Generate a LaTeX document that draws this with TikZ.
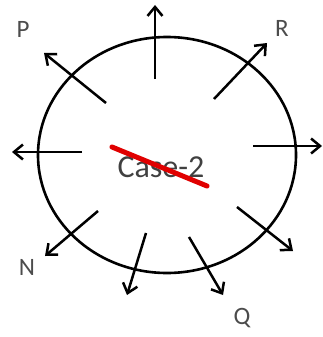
\documentclass[tikz,border=0pt]{standalone}
\usepackage{fontspec}
\setmainfont{Carlito}
\usetikzlibrary{arrows.meta,shapes.geometric}
\begin{document}
\begin{tikzpicture}[x=1pt,y=-1pt,>={Straight Barb[length=9pt,width=15pt]},
  every node/.style={font=\fontsize{25}{25}\selectfont,text=black!70,inner sep=0pt},
  ring/.style={draw,ellipse,line width=2.6pt,minimum width=258pt,minimum height=236pt},
  ray/.style={->,line width=2.5pt},
  strike/.style={line width=5pt,draw=red!88!black,line cap=round}]
  \useasboundingbox (0,0) rectangle (323,337);
  \node[ring] (ring) at (167,155) {};
  \node[font=\fontsize{32}{32}\selectfont,text=black!75] (case) at (161,167) {Case-2};
  \coordinate (s1) at (112,147); \coordinate (s2) at (207,186);
  \draw[strike] (s1) -- (s2);
  % arrow tails and heads
  \coordinate (up-t) at (155,79);  \coordinate (up-h) at (155,5);
  \coordinate (p-t) at (106,103);  \coordinate (p-h) at (44,53);
  \coordinate (r-t) at (214,99);   \coordinate (r-h) at (267,43);
  \coordinate (e-t) at (253,146);  \coordinate (e-h) at (322,146);
  \coordinate (w-t) at (82,152);   \coordinate (w-h) at (12,152);
  \coordinate (n-t) at (98,211);   \coordinate (n-h) at (45,256);
  \coordinate (s-t) at (146,233);  \coordinate (s-h) at (127,295);
  \coordinate (q-t) at (189,237);  \coordinate (q-h) at (223,295);
  \coordinate (se-t) at (237,207); \coordinate (se-h) at (293,251);
  \draw[ray] (up-t) -- (up-h);
  \draw[ray] (p-t) -- (p-h);
  \draw[ray] (r-t) -- (r-h);
  \draw[ray] (e-t) -- (e-h);
  \draw[ray] (w-t) -- (w-h);
  \draw[ray] (n-t) -- (n-h);
  \draw[ray] (s-t) -- (s-h);
  \draw[ray] (q-t) -- (q-h);
  \draw[ray] (se-t) -- (se-h);
  \node (lp) at (23,29) {P};
  \node (lr) at (282,28) {R};
  \node (ln) at (27,267) {N};
  \node (lq) at (242,318) {Q};
\end{tikzpicture}
\end{document}
